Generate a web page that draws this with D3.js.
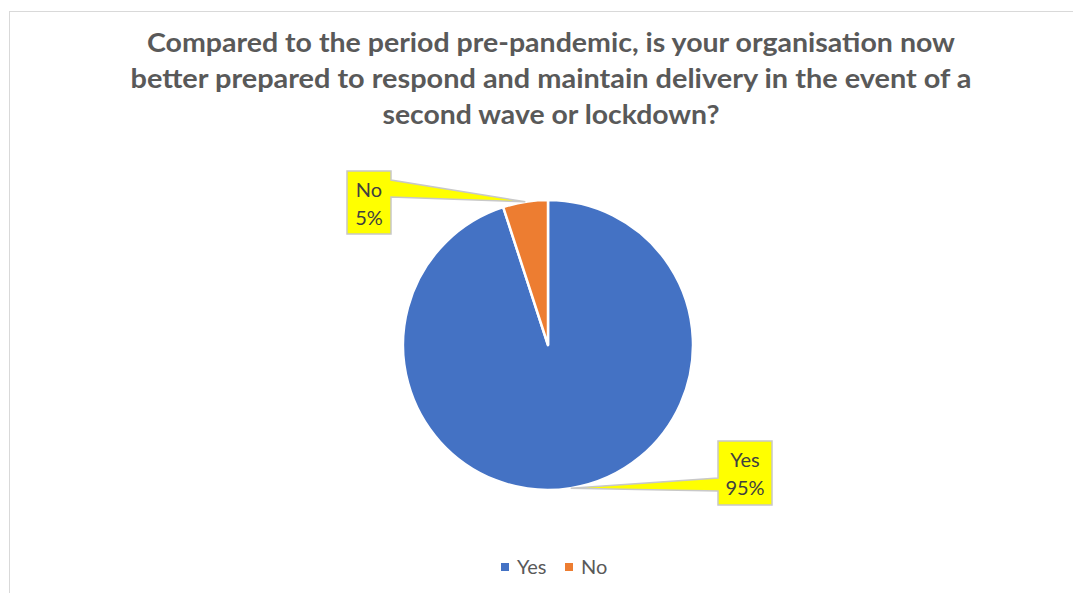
<!DOCTYPE html>
<html>
<head>
<meta charset="utf-8">
<script src="https://cdn.jsdelivr.net/npm/d3@7"></script>
<style>
  html, body { margin: 0; padding: 0; background: #fff; }
  svg { display: block; }
</style>
</head>
<body>
<svg id="chart" width="1073" height="593"></svg>
<script>
// Survey answers and their shares (%)
const categories = ["Yes", "No"];
const values = [95, 5];
const colors = ["#4472C4", "#ED7D31"];
const titleLines = [
  "Compared to the period pre-pandemic, is your organisation now",
  "better prepared to respond and maintain delivery in the event of a",
  "second wave or lockdown?"
];

const svg = d3.select("#chart");
const W = 1073, H = 593;
const FONT = "Lato, 'Open Sans', sans-serif";

// chart area frame (continues past the right and bottom edges)
svg.append("rect")
  .attr("x", 9.5).attr("y", 11.5)
  .attr("width", W + 20).attr("height", H + 20)
  .attr("fill", "#fff")
  .attr("stroke", "#d9d9d9").attr("stroke-width", 1);

// title, each line fitted to its width
const titleWidths = [808, 841, 337];
const titleBase = [52, 88, 124];
const titleG = svg.append("g");
titleLines.forEach((line, i) => {
  titleG.append("text")
    .attr("x", 551).attr("y", titleBase[i])
    .attr("text-anchor", "middle")
    .attr("font-family", FONT)
    .attr("font-weight", 700)
    .attr("font-size", 26)
    .attr("fill", "#595959")
    .attr("textLength", titleWidths[i])
    .attr("lengthAdjust", "spacingAndGlyphs")
    .text(line);
});

// pie
const cx = 548, cy = 345, R = 145;
const pie = d3.pie().sort(null).value(d => d.v);
const data = categories.map((c, i) => ({ c, v: values[i], color: colors[i] }));
const arcs = pie(data);
const arc = d3.arc().innerRadius(0).outerRadius(R);

const pieG = svg.append("g").attr("transform", `translate(${cx},${cy})`);
pieG.selectAll("path")
  .data(arcs)
  .join("path")
  .attr("d", arc)
  .attr("fill", d => d.data.color)
  .attr("stroke", "#fff")
  .attr("stroke-width", 2.5)
  .attr("stroke-linejoin", "round");

// callout labels with a pointer to the middle of each slice's rim
const calloutBoxes = {
  Yes: { x: 718, y: 441, w: 54, h: 64, side: "left", p0: 478, p1: 491 },
  No:  { x: 347, y: 171, w: 44, h: 63, side: "right", p0: 180, p1: 197 }
};

const callG = svg.append("g");
arcs.forEach(a => {
  const b = calloutBoxes[a.data.c];
  const mid = (a.startAngle + a.endAngle) / 2;
  const tx = cx + R * Math.sin(mid);
  const ty = cy - R * Math.cos(mid);
  let pts;
  if (b.side === "right") {
    const r = b.x + b.w;
    pts = [[b.x, b.y], [r, b.y], [r, b.p0], [tx, ty], [r, b.p1], [r, b.y + b.h], [b.x, b.y + b.h]];
  } else {
    pts = [[b.x, b.y], [b.x + b.w, b.y], [b.x + b.w, b.y + b.h], [b.x, b.y + b.h], [b.x, b.p1], [tx, ty], [b.x, b.p0]];
  }
  callG.append("path")
    .attr("d", d3.line()(pts) + "Z")
    .attr("fill", "#FFFF00")
    .attr("stroke", "#c8c8c8")
    .attr("stroke-width", 1.5)
    .attr("stroke-linejoin", "miter");
  const lx = b.x + b.w / 2;
  const pct = Math.round(a.data.v / d3.sum(values) * 100) + "%";
  callG.append("text")
    .attr("x", lx).attr("y", b.y + 26)
    .attr("text-anchor", "middle")
    .attr("font-family", FONT).attr("font-size", 20)
    .attr("fill", "#404040")
    .text(a.data.c);
  callG.append("text")
    .attr("x", lx).attr("y", b.y + 54)
    .attr("text-anchor", "middle")
    .attr("font-family", FONT).attr("font-size", 20)
    .attr("fill", "#404040")
    .text(pct);
});

// legend
const legend = svg.append("g");
const legendX = [501, 565];
data.forEach((d, i) => {
  legend.append("rect")
    .attr("x", legendX[i]).attr("y", 563)
    .attr("width", 8).attr("height", 8)
    .attr("fill", d.color);
  legend.append("text")
    .attr("x", legendX[i] + 16).attr("y", 574)
    .attr("font-family", FONT).attr("font-size", 20)
    .attr("fill", "#595959")
    .text(d.c);
});
</script>
</body>
</html>
